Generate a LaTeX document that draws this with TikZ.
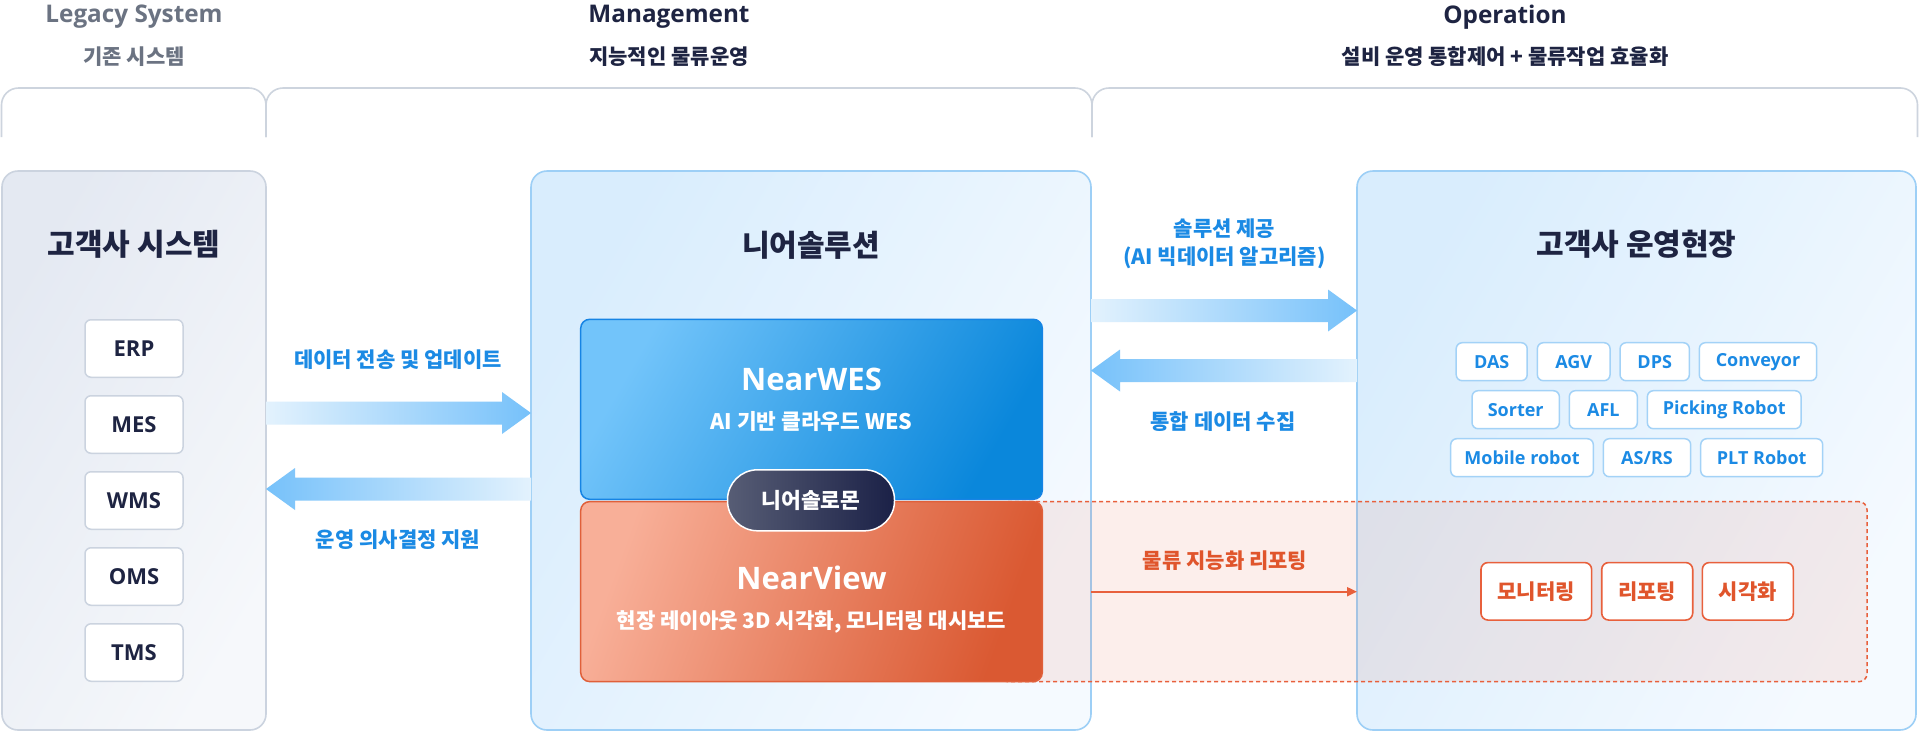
\documentclass[tikz,border=0pt]{standalone}
\usepackage{fontspec}
\setmainfont{Noto Sans CJK KR}
\newfontfamily\lat{Open Sans}
\usetikzlibrary{calc,arrows.meta}
\definecolor{navy}{HTML}{1E2442}
\definecolor{grayT}{HTML}{6B7382}
\definecolor{blueT}{HTML}{1B8AE4}
\definecolor{orangeT}{HTML}{E0552C}
\definecolor{grayBorder}{HTML}{CBD3DF}
\definecolor{grayA}{HTML}{E4E9F2}
\definecolor{grayB}{HTML}{F6F8FB}
\definecolor{blueBorder}{HTML}{9DCFF6}
\definecolor{blueA}{HTML}{D9EDFD}
\definecolor{blueB}{HTML}{F5FAFF}
\definecolor{arrowLight}{HTML}{E3F2FD}
\definecolor{arrowDark}{HTML}{76C1FA}
\definecolor{wesA}{HTML}{72C4FA}
\definecolor{wesB}{HTML}{0A87DB}
\definecolor{wesBorder}{HTML}{1684E4}
\definecolor{viewA}{HTML}{F8AF98}
\definecolor{viewB}{HTML}{DA5932}
\definecolor{viewBorder}{HTML}{E0603A}
\definecolor{pillA}{HTML}{575D75}
\definecolor{pillB}{HTML}{1B2147}
\definecolor{tagBorder}{HTML}{A3D2F7}
\definecolor{bracketC}{HTML}{CDD4DE}
\definecolor{orangeL}{HTML}{E8603C}
\newcommand\fatarrow[4]{%
  \path[#4] ($(#1)+(0,-11.5)$) -- ($(#2)+({-29*#3},-11.5)$) -- ($(#2)+({-29*#3},-21)$) -- (#2)
    -- ($(#2)+({-29*#3},21)$) -- ($(#2)+({-29*#3},11.5)$) -- ($(#1)+(0,11.5)$) -- cycle;}
\begin{document}
\begin{tikzpicture}[x=1pt,y=-1pt,
  bracket/.style={draw=bracketC, line width=1.6, rounded corners=17},
  hdr/.style={font=\lat\bfseries\fontsize{24.3}{28}\selectfont},
  hsub/.style={font=\bfseries\fontsize{21}{25}\selectfont},
  title/.style={font=\bfseries\fontsize{30}{34}\selectfont, text=navy},
  bigbox/.style={rounded corners=16, line width=1.6, inner sep=0, outer sep=0, minimum height=559},
  sysbox/.style={draw=grayBorder, fill=white, rounded corners=6, line width=1.5, inner sep=0, outer sep=0,
    minimum width=98, minimum height=57.5, font=\lat\bfseries\fontsize{22}{25}\selectfont, text=navy},
  tag/.style={draw=tagBorder, fill=white, rounded corners=6, line width=1.5, inner sep=0, outer sep=0,
    minimum height=38, font=\lat\bfseries\fontsize{18}{22}\selectfont, text=blueT},
  otag/.style={draw=orangeL, fill=white, rounded corners=7, line width=1.6, inner sep=0, outer sep=0,
    minimum height=57.5, font=\bfseries\fontsize{21}{25}\selectfont, text=orangeT},
  lbl/.style={font=\bfseries\fontsize{21}{28}\selectfont, text=blueT, align=center},
  arrR/.style={left color=arrowLight, right color=arrowDark},
  arrL/.style={left color=arrowDark, right color=arrowLight}]
\fill[white] (0,0) rectangle (1919,732);
\useasboundingbox (0,0) rectangle (1919,732);
% header brackets
\draw[bracket] (1.5,137) -- (1.5,88) -- (266,88) -- (266,137);
\draw[bracket] (266,137) -- (266,88) -- (1092,88) -- (1092,137);
\draw[bracket] (1092,137) -- (1092,88) -- (1917.5,88) -- (1917.5,137);
% header texts
\node[hdr, text=grayT] (hLeg) at (134,17) {Legacy System};
\node[hsub, text=grayT] (sLeg) at (134,57) {기존 시스템};
\node[hdr, text=navy] (hMan) at (669,17) {Management};
\node[hsub, text=navy] (sMan) at (669,57) {지능적인 물류운영};
\node[hdr, text=navy] (hOp) at (1505,17) {Operation};
\node[hsub, text=navy] (sOp) at (1505,57) {설비 운영 통합제어 + 물류작업 효율화};
% big boxes
\node[bigbox, draw=grayBorder, left color=grayA, right color=grayB, shading angle=60, minimum width=264] (legacy) at (134,450.5) {};
\node[bigbox, draw=blueBorder, left color=blueA, right color=blueB, shading angle=60, minimum width=560] (mgmt) at (811,450.5) {};
\node[bigbox, draw=blueBorder, left color=blueA, right color=blueB, shading angle=60, minimum width=559] (site) at (1636.5,450.5) {};
\node[title] (tLeg) at (134,244) {고객사 시스템};
\node[title] (tMan) at (811,245) {니어솔루션};
\node[title] (tSite) at (1636.5,244) {고객사 운영현장};
% legacy systems
\node[sysbox] (erp) at (134,348.5) {ERP};
\node[sysbox] (mes) at (134,424.5) {MES};
\node[sysbox] (wms) at (134,500.5) {WMS};
\node[sysbox] (oms) at (134,576.5) {OMS};
\node[sysbox] (tms) at (134,652.5) {TMS};
% fat arrows
\coordinate (a1t) at (legacy.east |- 0,413);
\coordinate (a1h) at (mgmt.west |- 0,413);
\fatarrow{a1t}{a1h}{1}{arrR}
\coordinate (a2t) at (mgmt.west |- 0,489);
\coordinate (a2h) at (legacy.east |- 0,489);
\fatarrow{a2t}{a2h}{-1}{arrL}
\coordinate (a3t) at (mgmt.east |- 0,310.5);
\coordinate (a3h) at (site.west |- 0,310.5);
\fatarrow{a3t}{a3h}{1}{arrR}
\coordinate (a4t) at (site.west |- 0,370.5);
\coordinate (a4h) at (mgmt.east |- 0,370.5);
\fatarrow{a4t}{a4h}{-1}{arrL}
% reporting overlay
\node[draw=orangeL, fill=orangeL, fill opacity=0.1, draw opacity=1, dash pattern=on 4pt off 3pt, line width=1.5,
  rounded corners=8, minimum width=867, minimum height=180, inner sep=0, outer sep=0] (rpt) at (1433.5,591.7) {};
% NearWES / NearView
\node[draw=wesBorder, left color=wesA, right color=wesB, shading angle=60, rounded corners=9, line width=1.5,
  minimum width=461.6, minimum height=180, inner sep=0, outer sep=0] (wes) at (811.5,409.3) {};
\node[font=\lat\bfseries\fontsize{31}{36}\selectfont, text=white] (wesT) at (811.5,379) {NearWES};
\node[font=\bfseries\fontsize{21.4}{25}\selectfont, text=white] (wesS) at (811.5,421.7) {AI 기반 클라우드 WES};
\node[draw=viewBorder, left color=viewA, right color=viewB, shading angle=70, rounded corners=9, line width=1.5,
  minimum width=461.6, minimum height=180, inner sep=0, outer sep=0] (view) at (811.5,591.6) {};
\node[font=\lat\bfseries\fontsize{31}{36}\selectfont, text=white] (viewT) at (811.5,578.3) {NearView};
\node[font=\bfseries\fontsize{21.1}{25}\selectfont, text=white] (viewS) at (811.5,621.7) {현장 레이아웃 3D 시각화, 모니터링 대시보드};
\node[draw=white, line width=1.5, rounded corners=30, left color=pillA, right color=pillB, minimum width=167, minimum height=61,
  inner sep=0, font=\bfseries\fontsize{21.5}{25}\selectfont, text=white] (pill) at (811,500.3) {니어솔로몬};
% equipment tags
\node[tag, minimum width=71] (das) at (1491.7,361.7) {DAS};
\node[tag, minimum width=72.7] (agv) at (1573.7,361.7) {AGV};
\node[tag, minimum width=69.3] (dps) at (1654.7,361.7) {DPS};
\node[tag, minimum width=117.4] (conv) at (1758,361.7) {Conveyor};
\node[tag, minimum width=87.3] (sorter) at (1515.7,409.7) {Sorter};
\node[tag, minimum width=68] (afl) at (1603.3,409.7) {AFL};
\node[tag, minimum width=153.7] (pick) at (1724.2,409.7) {Picking Robot};
\node[tag, minimum width=142.6] (mob) at (1522,457.7) {Mobile robot};
\node[tag, minimum width=87.4] (asrs) at (1647,457.7) {AS/RS};
\node[tag, minimum width=122] (plt) at (1761.7,457.7) {PLT Robot};
% reporting tags
\node[otag, minimum width=110.7] (mon) at (1536.3,591.3) {모니터링};
\node[otag, minimum width=91] (rep) at (1647.2,591.3) {리포팅};
\node[otag, minimum width=91] (vis) at (1747.8,591.3) {시각화};
% orange arrow
\draw[orangeL, line width=2, -{Triangle[length=10pt,width=9pt]}] (mgmt.east |- rpt.center) -- (site.west |- rpt.center);
% labels
\node[lbl] (l1) at (398,360) {데이터 전송 및 업데이트};
\node[lbl] (l2) at (398,539.5) {운영 의사결정 지원};
\node[lbl] (l3) at (1224.5,244) {솔루션 제공\\(AI 빅데이터 알고리즘)};
\node[lbl] (l4) at (1223,421.7) {통합 데이터 수집};
\node[lbl, text=orangeT] (l5) at (1225,561) {물류 지능화 리포팅};
\end{tikzpicture}
\end{document}
